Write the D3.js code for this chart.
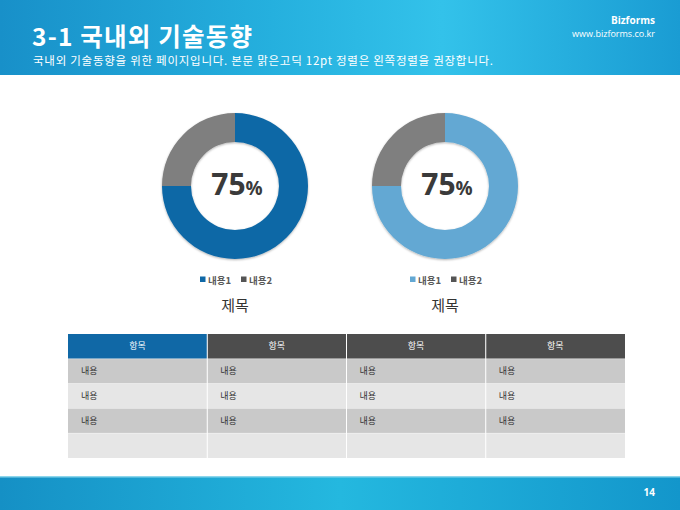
<!DOCTYPE html>
<html>
<head>
<meta charset="utf-8">
<script src="https://cdn.jsdelivr.net/npm/d3@7"></script>
<style>
  html, body { margin: 0; padding: 0; background: #fff; }
  svg { display: block; font-family: "Open Sans", "Noto Sans CJK KR", sans-serif; }
</style>
</head>
<body>
<svg id="slide" width="680" height="510"></svg>
<script>
// ---- data ----
const pageTitle = "3-1 국내외 기술동향";
const pageSubtitle = "국내외 기술동향을 위한 페이지입니다. 본문 맑은고딕 12pt 정렬은 왼쪽정렬을 권장합니다.";
const brandName = "Bizforms";
const brandUrl = "www.bizforms.co.kr";
const pageNumber = "14";

const seriesLabels = ["내용1", "내용2"];
const chartTitles = ["제목", "제목"];
const chartValues = [[75, 25], [75, 25]];
const chartColors = [["#1068a6", "#7f7f7f"], ["#63a8d3", "#7f7f7f"]];

const tableHeaders = ["항목", "항목", "항목", "항목"];
const tableRows = [
    ["내용", "내용", "내용", "내용"],
    ["내용", "내용", "내용", "내용"],
    ["내용", "내용", "내용", "내용"],
    ["", "", "", ""]
];

const W = 680, H = 510;
const svg = d3.select("#slide");
const defs = svg.append("defs");

// header / footer gradients
function bandGradient(id, stops) {
    const g = defs.append("linearGradient").attr("id", id)
        .attr("x1", "0%").attr("x2", "100%").attr("y1", "0%").attr("y2", "0%");
    stops.forEach(s => g.append("stop").attr("offset", s[0]).attr("stop-color", s[1]));
}
bandGradient("hdr", [["0%", "#1890c9"], ["40%", "#25b0de"], ["65%", "#33c2ea"], ["100%", "#1a9cd3"]]);
bandGradient("ftr", [["0%", "#1590c5"], ["50%", "#24b8df"], ["100%", "#1396cb"]]);

const shadow = defs.append("filter").attr("id", "shadow")
    .attr("x", "-20%").attr("y", "-20%").attr("width", "140%").attr("height", "140%");
shadow.append("feDropShadow").attr("dx", 0).attr("dy", 1).attr("stdDeviation", 1.2)
    .attr("flood-color", "#000").attr("flood-opacity", 0.3);

// header
svg.append("rect").attr("x", 0).attr("y", 0).attr("width", W).attr("height", 75).attr("fill", "url(#hdr)");
svg.append("text").attr("x", 32).attr("y", 46)
    .attr("fill", "#fff").attr("font-size", 24.5).attr("font-weight", 700)
    .attr("letter-spacing", 1.2)
    .attr("font-family", "'Noto Sans CJK KR', sans-serif")
    .text(pageTitle);
svg.append("text").attr("x", 33).attr("y", 65)
    .attr("fill", "#fff").attr("font-size", 11.5)
    .attr("font-family", "'Noto Sans CJK KR', sans-serif")
    .attr("textLength", 460).attr("lengthAdjust", "spacing")
    .text(pageSubtitle);
svg.append("text").attr("x", 655).attr("y", 24).attr("text-anchor", "end")
    .attr("fill", "#fff").attr("font-size", 10).attr("font-weight", 700)
    .text(brandName);
svg.append("text").attr("x", 655).attr("y", 37).attr("text-anchor", "end")
    .attr("fill", "#fff").attr("font-size", 9)
    .text(brandUrl);

// footer
svg.append("rect").attr("x", 0).attr("y", 476).attr("width", W).attr("height", H - 476).attr("fill", "url(#ftr)");
svg.append("rect").attr("x", 0).attr("y", 476).attr("width", W).attr("height", 1.5).attr("fill", "#8cd6ec");
svg.append("text").attr("x", 655).attr("y", 496).attr("text-anchor", "end")
    .attr("fill", "#fff").attr("font-size", 10).attr("font-weight", 700)
    .text(pageNumber);

// donuts
const xChart = d3.scalePoint().domain(d3.range(chartValues.length)).range([235, 445]);
const cy = 186;
const pie = d3.pie().sort(null).value(d => d);
const arc = d3.arc().innerRadius(44).outerRadius(73);

chartValues.forEach((vals, i) => {
    const g = svg.append("g").attr("transform", `translate(${xChart(i)},${cy})`);
    g.append("g").attr("filter", "url(#shadow)")
        .selectAll("path")
        .data(pie(vals))
        .join("path")
        .attr("d", arc)
        .attr("fill", (d, j) => chartColors[i][j]);

    const label = g.append("text").attr("x", 2).attr("y", 9)
        .attr("text-anchor", "middle").attr("fill", "#3a3a3a").attr("font-weight", 700);
    label.append("tspan").attr("font-size", 30).text(vals[0]);
    label.append("tspan").attr("font-size", 19).text("%");

    // legend
    const lg = svg.append("g").attr("transform", `translate(${xChart(i)},281)`);
    const itemW = 41;
    seriesLabels.forEach((s, j) => {
        const ox = -35 + j * itemW;
        lg.append("rect").attr("x", ox).attr("y", -4.5).attr("width", 5.5).attr("height", 5.5)
            .attr("fill", chartColors[i][j] === "#7f7f7f" ? "#555" : chartColors[i][j]);
        lg.append("text").attr("x", ox + 8).attr("y", 3)
            .attr("font-size", 9.5).attr("font-weight", 700).attr("fill", "#595959")
            .attr("font-family", "'Noto Sans CJK KR', sans-serif")
            .text(s);
    });

    svg.append("text").attr("x", xChart(i)).attr("y", 311)
        .attr("text-anchor", "middle").attr("font-size", 15).attr("fill", "#333")
        .attr("font-family", "'Noto Sans CJK KR', sans-serif")
        .text(chartTitles[i]);
});

// table
const xCol = d3.scaleBand().domain(d3.range(tableHeaders.length)).range([68, 625]);
const yRow = d3.scaleBand().domain(d3.range(tableRows.length + 1)).range([334, 458]);
const tg = svg.append("g").attr("font-family", "'Noto Sans CJK KR', sans-serif");

tableHeaders.forEach((h, c) => {
    tg.append("rect").attr("x", xCol(c)).attr("y", yRow(0))
        .attr("width", xCol.bandwidth()).attr("height", yRow.bandwidth())
        .attr("fill", c === 0 ? "#1068a6" : "#4d4d4d");
    tg.append("text").attr("x", xCol(c) + xCol.bandwidth() / 2).attr("y", yRow(0) + yRow.bandwidth() / 2 + 3)
        .attr("text-anchor", "middle").attr("font-size", 9).attr("fill", "#fff")
        .text(h);
});

tableRows.forEach((row, r) => {
    row.forEach((cell, c) => {
        tg.append("rect").attr("x", xCol(c)).attr("y", yRow(r + 1))
            .attr("width", xCol.bandwidth()).attr("height", yRow.bandwidth())
            .attr("fill", r % 2 === 0 ? "#c9c9c9" : "#e6e6e6");
        tg.append("text").attr("x", xCol(c) + 13).attr("y", yRow(r + 1) + yRow.bandwidth() / 2 + 3)
            .attr("font-size", 9).attr("fill", "#333")
            .text(cell);
    });
});

// white column dividers
tg.selectAll("line.div")
    .data(d3.range(1, tableHeaders.length))
    .join("line")
    .attr("x1", c => xCol(c)).attr("x2", c => xCol(c))
    .attr("y1", yRow(0)).attr("y2", 458)
    .attr("stroke", "#fff").attr("stroke-width", 1);
tg.selectAll("line.hdiv")
    .data(d3.range(1, tableRows.length + 1))
    .join("line")
    .attr("x1", 68).attr("x2", 625)
    .attr("y1", r => yRow(r)).attr("y2", r => yRow(r))
    .attr("stroke", "#fff").attr("stroke-width", 0.5).attr("stroke-opacity", 0.6);
</script>
</body>
</html>
